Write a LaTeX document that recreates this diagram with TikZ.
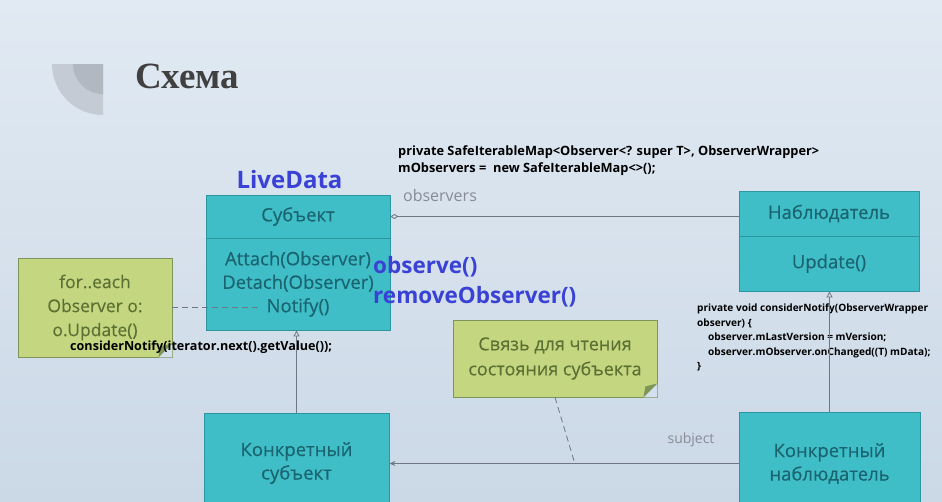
\documentclass[tikz,border=0pt]{standalone}
\usepackage{fontspec}
\setmainfont{Open Sans}
\newfontfamily\titlefont{Liberation Serif}
\newfontfamily\boxfont[FakeBold=0.4]{Open Sans}
\usetikzlibrary{arrows.meta,positioning,calc}
\definecolor{slidetop}{RGB}{225,234,243}
\definecolor{slidebot}{RGB}{203,216,230}
\definecolor{slidebg}{RGB}{212,224,237}
\definecolor{boxteal}{RGB}{64,190,199}
\definecolor{boxedge}{RGB}{44,150,160}
\definecolor{boxtext}{RGB}{26,100,112}
\definecolor{notegreen}{RGB}{196,215,128}
\definecolor{noteedge}{RGB}{125,150,88}
\definecolor{notetext}{RGB}{92,112,52}
\definecolor{linegray}{RGB}{110,120,130}
\definecolor{labelgray}{RGB}{135,140,150}
\definecolor{ldblue}{RGB}{58,66,214}
\definecolor{logolight}{RGB}{196,203,212}
\definecolor{logodark}{RGB}{177,184,194}
\tikzset{
  cls/.style={
    rectangle, draw=boxedge, fill=boxteal, line width=0.8pt,
    text=boxtext, inner sep=0pt, align=center,
    font=\boxfont\fontsize{18.5}{23.5}\selectfont
  },
  note/.style={
    rectangle, draw=noteedge, fill=notegreen, line width=0.8pt,
    text=notetext, inner sep=0pt, align=center,
    font=\boxfont\fontsize{17.5}{24}\selectfont
  },
  code/.style={
    anchor=north west, inner sep=0pt, align=left,
    font=\bfseries\fontsize{12.6}{17}\selectfont
  },
  hint/.style={
    anchor=west, inner sep=0pt, text=ldblue,
    font=\bfseries\fontsize{22.5}{26}\selectfont
  },
  rolelabel/.style={
    inner sep=0pt, text=labelgray, font=\fontsize{14}{16}\selectfont
  },
  assoc/.style={draw=linegray, line width=0.8pt},
  inherit/.style={assoc, -{Triangle[open,length=6pt,width=6pt]}},
  dashlink/.style={assoc, dash pattern=on 6pt off 4pt}
}

\begin{document}
\begin{tikzpicture}[x=1pt, y=-1pt]
  \useasboundingbox (0,0) rectangle (942,501);
  \clip (0,0) rectangle (942,501);
  % Slide
  \shade[top color=slidetop, bottom color=slidebot] (0,0) rectangle (942,501);
  \fill[logolight] (103,64) -- (52,64) arc[start angle=180, end angle=90, radius=51] -- cycle;
  \fill[logodark] (103,64) -- (73,64) arc[start angle=180, end angle=90, radius=30] -- cycle;
  \node[anchor=base west, inner sep=0pt, text=black!75,
    font=\titlefont\bfseries\fontsize{37}{40}\selectfont] (title) at (135,88) {Схема};

  % Row 1: Subject and Observer
  \node[cls, minimum width=184, minimum height=43] (subjhead) at (298,216.5) {Субъект};
  \node[cls, minimum width=184, minimum height=92] (subjbody) at (298,284)
    {Attach(Observer)\\Detach(Observer)\\Notify()};
  \node[cls, minimum width=180, minimum height=45] (obshead) at (829,213.5) {Наблюдатель};
  \node[cls, minimum width=180, minimum height=55] (obsbody) at (829,263.5) {Update()};

  % Row 2: notes
  \node[note, minimum width=154, minimum height=99] (foreach) at (95,307.5)
    {for..each\\Observer o:\\o.Update()};
  \node[note, minimum width=204, minimum height=77, font=\boxfont\fontsize{18}{25}\selectfont]
    (readnote) at (555,358.5) {Связь для чтения\\состояния субъекта};
  \foreach \n in {foreach,readnote}{
    \fill[slidebg] (\n.south east) -- ++(-14,0) -- ++(14,-14) -- cycle;
    \fill[noteedge] (\n.south east) ++(-14,0) -- ++(14,-14) -- ++(-12,3) -- cycle;
  }

  % Row 3: concrete classes
  \node[cls, minimum width=185, minimum height=100] (csubj) at (296.5,463)
    {Конкретный\\субъект};
  \node[cls, minimum width=181, minimum height=103] (cobs) at (829.5,463.5)
    {Конкретный\\наблюдатель};

  % LiveData hints
  \node[hint, anchor=center, font=\bfseries\fontsize{24}{28}\selectfont] (livedata) at (289.5,179) {LiveData};
  \node[hint] (observe) at (373,267) {observe()};
  \node[hint] (remove) at (373,297) {removeObserver()};
  \node[code, font=\bfseries\fontsize{12.8}{17}\selectfont] (mapdecl) at (398,146)
    {private SafeIterableMap<Observer<? super T>, ObserverWrapper>\\mObservers = \ new SafeIterableMap<>();};
  \node[code] (notifycall) at (70,341) {considerNotify(iterator.next().getValue());};
  \node[code, font=\bfseries\fontsize{10.1}{14.5}\selectfont] (notifydef) at (697,304)
    {private void considerNotify(ObserverWrapper\\observer) \{\\
     \hspace*{11pt}observer.mLastVersion = mVersion;\\
     \hspace*{11pt}observer.mObserver.onChanged((T) mData);\\\}};

  % Connectors
  \coordinate (notifyin) at (258,307.5);
  \draw[assoc, {Diamond[open,length=8pt,width=5pt]}-] (subjhead.east)
    -- (subjhead.east -| obshead.west);
  \node[rolelabel, font=\fontsize{16}{18}\selectfont] (obslabel) at (440,195) {observers};
  \draw[inherit] (csubj.north) -- (csubj.north |- subjbody.south);
  \draw[inherit] (cobs.north) -- (cobs.north |- obsbody.south);
  \draw[assoc, -{Stealth[length=6pt,width=5pt]}] (cobs.west) -- (cobs.west -| csubj.east);
  \coordinate (readpt) at ($(cobs.west)!0.469!(cobs.west -| csubj.east)$);
  \node[rolelabel] (subjlabel) at (691,440) {subject};
  \draw[dashlink] (readnote.south) -- (readpt);
  \draw[dashlink] (foreach.east) -- (notifyin);
\end{tikzpicture}
\end{document}
